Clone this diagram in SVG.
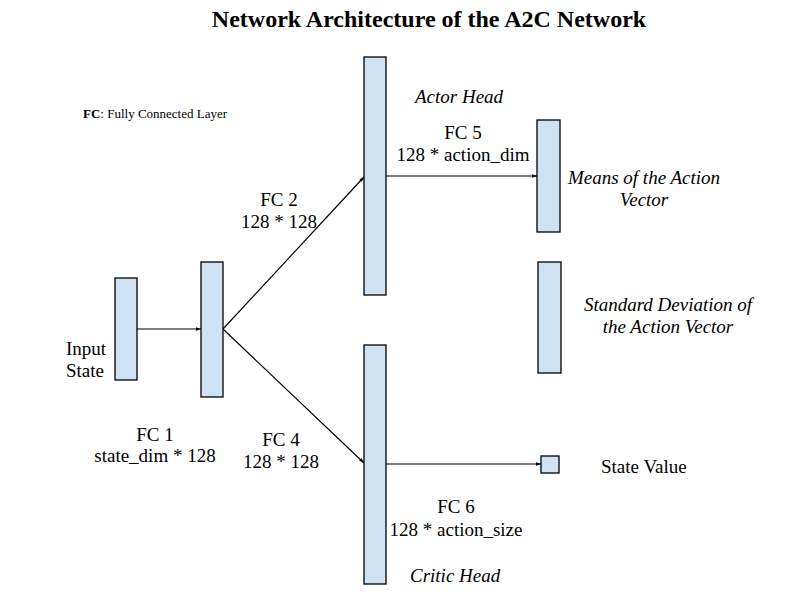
<svg xmlns="http://www.w3.org/2000/svg" width="800" height="600" viewBox="0 0 800 600">
<defs>
<style>
.box{fill:#cfe2f3;stroke:#000;stroke-width:1.3}
.t{font-family:"Liberation Serif","Times New Roman",serif;font-size:19px;fill:#000}
.c{text-anchor:middle}
.i{font-style:italic}
.edge{stroke:#000;stroke-width:1.2;fill:none;marker-end:url(#ah)}
</style>
<marker id="ah" viewBox="0 0 10 10" refX="10" refY="5" markerWidth="5" markerHeight="5" markerUnits="userSpaceOnUse" orient="auto">
<path d="M0,1.5 L10,5 L0,8.5 z" fill="#000"/>
</marker>
</defs>
<rect width="800" height="600" fill="#fff"/>
<text x="429" y="27" class="t c" style="font-size:24px;font-weight:bold">Network Architecture of the A2C Network</text>
<text x="83" y="118" class="t" style="font-size:13px"><tspan font-weight="bold">FC</tspan>: Fully Connected Layer</text>
<g id="connectors">
<line class="edge" x1="137" y1="329" x2="201" y2="329"/>
<line class="edge" x1="223" y1="329" x2="364" y2="177"/>
<line class="edge" x1="223" y1="329" x2="364" y2="463"/>
<line class="edge" x1="386" y1="176" x2="537" y2="176"/>
<line class="edge" x1="386" y1="464" x2="541" y2="464"/>
</g>
<g id="input"><rect class="box" x="115" y="278" width="22" height="102"/>
<text class="t" x="66" y="355">Input</text><text class="t" x="66" y="377">State</text>
<text class="t c" x="155" y="441">FC 1</text><text class="t c" x="155" y="462">state_dim * 128</text></g>
<g id="fc1"><rect class="box" x="201" y="262" width="22" height="135"/>
<text class="t c" x="279" y="206">FC 2</text><text class="t c" x="279" y="228">128 * 128</text>
<text class="t c" x="281" y="446">FC 4</text><text class="t c" x="281" y="468">128 * 128</text></g>
<g id="actor"><rect class="box" x="364" y="57" width="22" height="238"/>
<text class="t i" x="415" y="103">Actor Head</text>
<text class="t c" x="463" y="139">FC 5</text><text class="t c" x="463" y="161">128 * action_dim</text></g>
<g id="means"><rect class="box" x="537" y="120" width="23" height="112"/>
<text class="t c i" x="644" y="184">Means of the Action</text><text class="t c i" x="644" y="206">Vector</text></g>
<g id="std"><rect class="box" x="538" y="262" width="23" height="111"/>
<text class="t c i" x="668" y="311">Standard Deviation of</text><text class="t c i" x="668" y="333">the Action Vector</text></g>
<g id="critic"><rect class="box" x="364" y="345" width="22" height="239"/>
<text class="t c" x="456" y="513">FC 6</text><text class="t c" x="456" y="536">128 * action_size</text>
<text class="t i" x="410" y="582">Critic Head</text></g>
<g id="value"><rect class="box" x="541" y="456" width="18" height="17"/>
<text class="t" x="601" y="473">State Value</text></g>
</svg>
